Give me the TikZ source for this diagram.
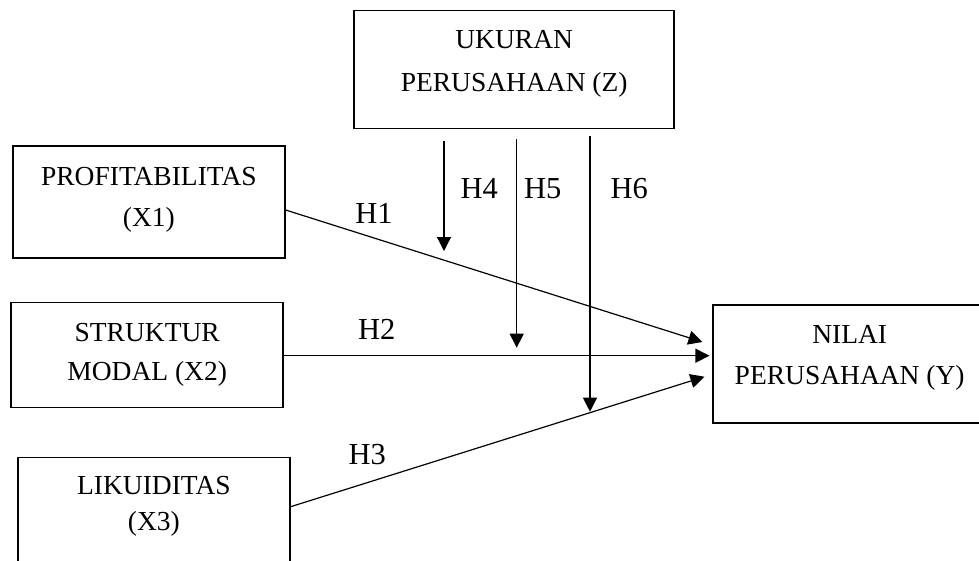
\documentclass[tikz,border=0pt]{standalone}
\usepackage{fontspec}
\setmainfont{Liberation Serif}
\usetikzlibrary{arrows.meta,calc}
\tikzset{
  box/.style={draw=black, line width=1.5pt, align=center, inner sep=0pt,
              font=\fontsize{27.5}{41}\selectfont},
  ar/.style={-{Triangle[length=14pt,width=14pt]}, line width=1.2pt, draw=black},
  lbl/.style={font=\fontsize{30.5}{36}\selectfont, inner sep=0pt}
}

\begin{document}
\begin{tikzpicture}[x=1pt,y=-1pt]
  \useasboundingbox (0,0) rectangle (979,560);
  \clip (0,0) rectangle (979,560);
  % variables
  \node[box, minimum width=320pt, minimum height=118pt] (z) at (514.2,69.5)
    {UKURAN\\[2pt]PERUSAHAAN (Z)\\[-23pt]};
  \node[box, minimum width=272pt, minimum height=112pt] (x1) at (148.9,201.9)
    {PROFITABILITAS\\(X1)\\[-30pt]};
  \node[box, minimum width=272pt, minimum height=105pt] (x2) at (147.2,354.8)
    {STRUKTUR\\[-1.5pt]MODAL (X2)};
  \node[box, minimum width=272pt, minimum height=112pt] (x3) at (153.9,513.7)
    {LIKUIDITAS\\[-5pt](X3)\\[-20pt]};
  \node[box, minimum width=273pt, minimum height=118pt] (y) at (849.7,364.2)
    {NILAI\\PERUSAHAAN (Y)\\[-22pt]};
  % direct effects
  \draw[ar] (x1.east |- 0,210) -- ($(y.west |- 0,342)+(-10,0)$);
  \draw[ar] (x2.east |- 0,355.7) -- ($(y.west |- 0,355.7)+(-3,0)$);
  \draw[ar] (x3.east |- 0,506.7) -- ($(y.west |- 0,376.7)+(-8,0)$);
  % moderation
  \coordinate (t4) at (444,251);
  \coordinate (t5) at (516.7,347.7);
  \coordinate (t6) at (590,411.7);
  \draw[ar] ($(z.south -| t4)+(0,12)$) -- (t4);
  \draw[ar] ($(z.south -| t5)+(0,10)$) -- (t5);
  \draw[ar] ($(z.south -| t6)+(0,7)$) -- (t6);
  % hypotheses
  \node[lbl] (h1) at (374,213) {H1};
  \node[lbl] (h2) at (376.7,329) {H2};
  \node[lbl] (h3) at (367.2,455) {H3};
  \node[lbl] (h4) at (479.2,188.7) {H4};
  \node[lbl] (h5) at (542.8,188.7) {H5};
  \node[lbl] (h6) at (629.2,188.7) {H6};
\end{tikzpicture}
\end{document}
